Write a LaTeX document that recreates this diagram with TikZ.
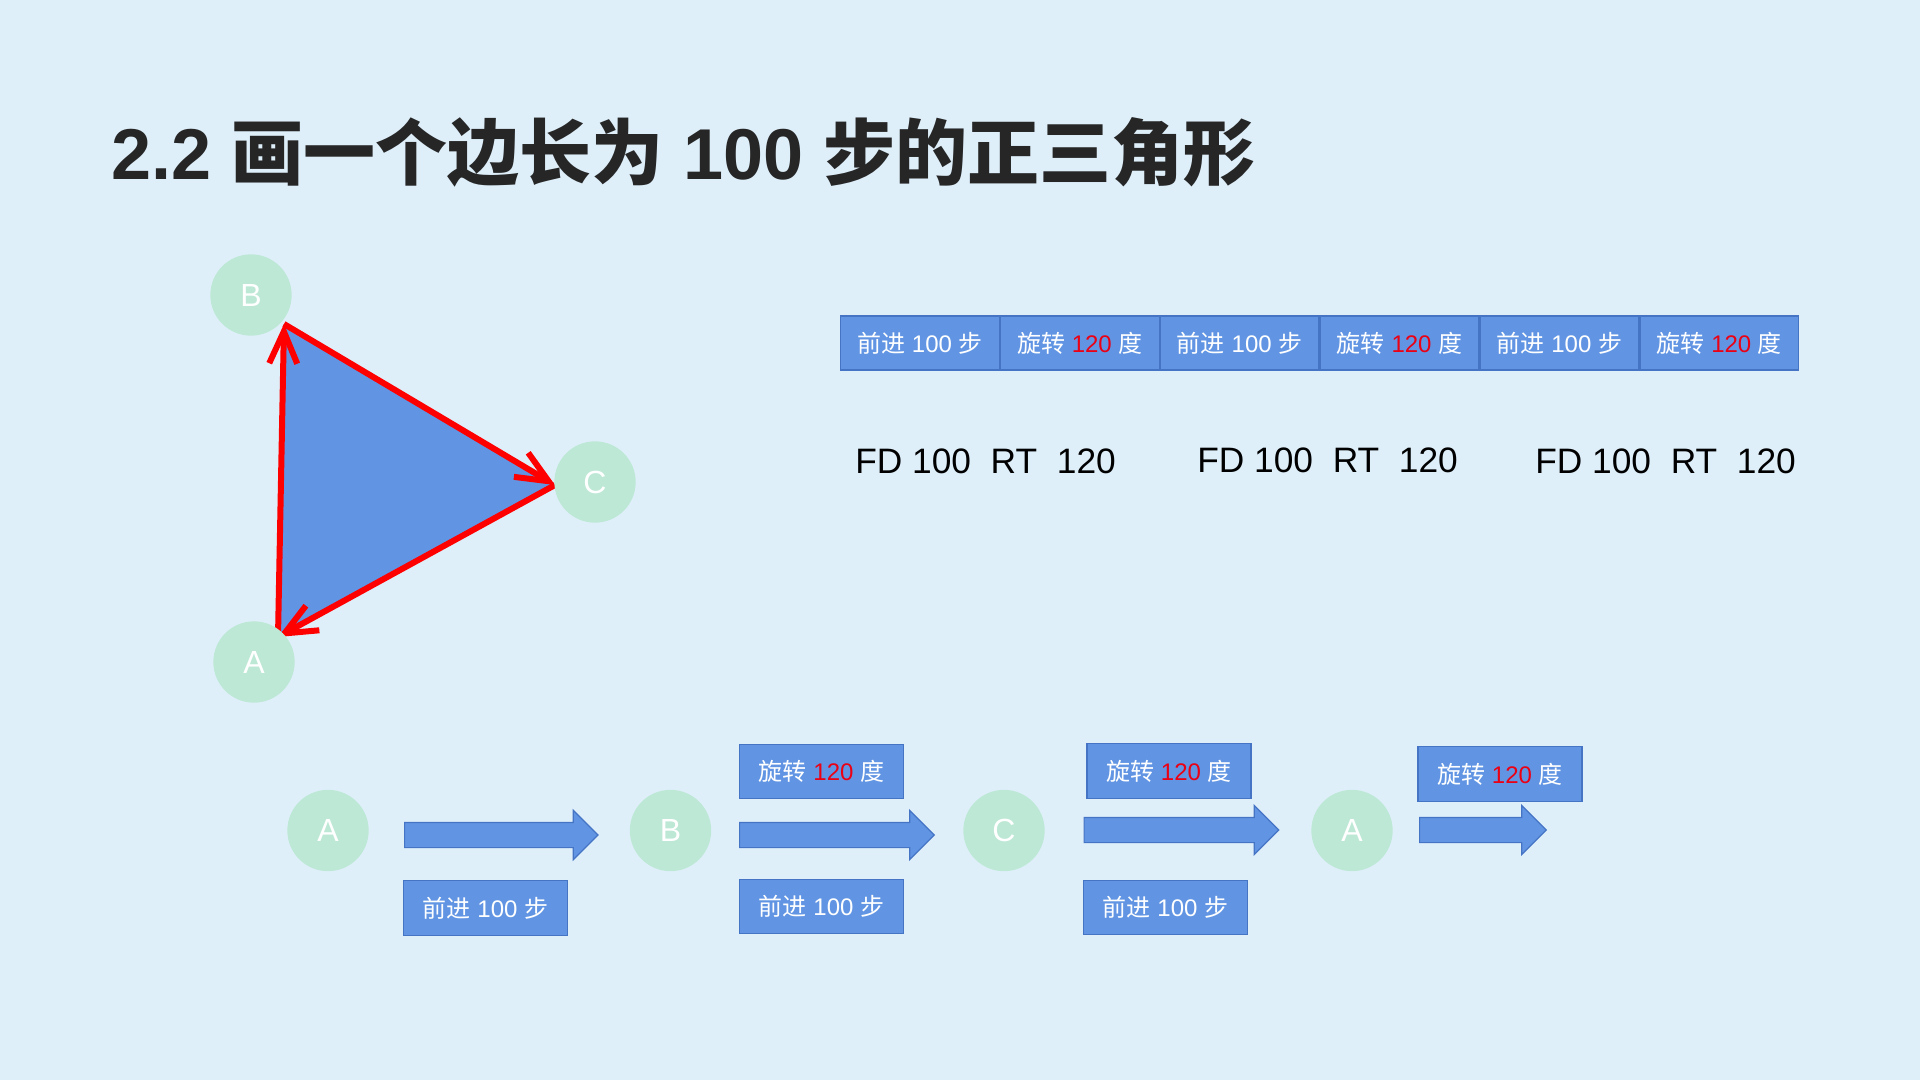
\documentclass[tikz,border=0pt]{standalone}
\usepackage{fontspec}
\setmainfont{Liberation Sans}
\newfontfamily\cjk{Noto Sans CJK SC}
\usepackage{xcolor}
\usetikzlibrary{arrows.meta, positioning, shapes.arrows, calc}

\definecolor{bgblue}{RGB}{222,239,250}
\definecolor{nodegreen}{RGB}{189,232,213}
\definecolor{boxblue}{RGB}{97,149,227}
\definecolor{boxline}{RGB}{70,116,196}
\definecolor{titlegray}{RGB}{38,38,38}
\definecolor{numred}{RGB}{235,0,20}

\newcommand{\fwdtext}{{\cjk 前进} 100 {\cjk 步}}
\newcommand{\turntext}{{\cjk 旋转} \textcolor{numred}{120} {\cjk 度}}

\begin{document}
\begin{tikzpicture}[
		x=0.75pt, y=-0.75pt,
		vertex/.style={
			circle,
			fill=nodegreen,
			text=white,
			minimum size=61pt,
			inner sep=0pt,
			font=\fontsize{24}{28}\selectfont
		},
		cmd/.style={
			draw=boxline,
			line width=0.9pt,
			fill=boxblue,
			text=white,
			minimum width=123pt,
			minimum height=41pt,
			inner sep=0pt,
			font=\fontsize{18}{22}\selectfont
		},
		rowbox/.style={
			cmd,
			minimum width=119pt,
			minimum height=40.5pt
		},
		move/.style={
			single arrow,
			draw=boxline,
			line width=0.9pt,
			fill=boxblue,
			single arrow head extend=9pt,
			single arrow tip angle=90,
			inner xsep=0pt,
			inner ysep=9pt,
			anchor=tail
		},
		redline/.style={
			red,
			line width=4.5pt,
			-{Straight Barb[length=24pt, width=21pt]}
		},
		logo/.style={
			anchor=base west,
			inner sep=0pt,
			font=\fontsize{26.5}{30}\selectfont
		}
		]
		
		% Hintergrund
		\fill[bgblue] (0,0) rectangle (1920,1080);
		\useasboundingbox (0,0) rectangle (1920,1080);
		
		% Titel
		\node[anchor=base west, inner sep=0pt, text=titlegray, font=\fontsize{54}{60}\selectfont\bfseries] (title) at (111,180) {2.2 {\cjk 画一个边长为} 100 {\cjk 步的正三角形}};
		
		% Dreieck
		\coordinate (tA) at (278,637);
		\coordinate (tB) at (284,324);
		\coordinate (tC) at (555,485);
		\fill[boxblue] (tA) -- (tB) -- (tC) -- cycle;
		\draw[redline] (tA) -- (tB);
		\draw[redline] (tB) -- (tC);
		\draw[redline] (tC) -- (tA);
		
		\node[vertex] (pB) at (251,295) {B};
		\node[vertex] (pC) at (595,482) {C};
		\node[vertex] (pA) at (254,662) {A};
		
		% Befehlsreihe
		\node[rowbox, anchor=west] (r1) at (840,343) {\fwdtext};
		\node[rowbox, right=0pt of r1] (r2) {\turntext};
		\node[rowbox, right=0pt of r2] (r3) {\fwdtext};
		\node[rowbox, right=0pt of r3] (r4) {\turntext};
		\node[rowbox, right=0pt of r4] (r5) {\fwdtext};
		\node[rowbox, right=0pt of r5] (r6) {\turntext};
		
		% Logo-Befehle
		\node[logo] (l1) at (855,473) {FD 100\ \ RT\ \ 120};
		\node[logo] (l2) at (1197,472) {FD 100\ \ RT\ \ 120};
		\node[logo] (l3) at (1535,473) {FD 100\ \ RT\ \ 120};
		
		% Ablauf unten
		\node[vertex] (a1) at (328,830.5) {A};
		\node[vertex] (b1) at (670.5,830.5) {B};
		\node[vertex] (c1) at (1004,830.5) {C};
		\node[vertex] (a2) at (1352,830.5) {A};
		
		\node[move, minimum height=145pt] (m1) at (404,835) {};
		\node[move, minimum height=146pt] (m2) at (739,835) {};
		\node[move, minimum height=146pt] (m3) at (1083.5,830) {};
		\node[move, minimum height=95pt] (m4) at (1419,830) {};
		
		\node[cmd] (f1) at (485.5,908) {\fwdtext};
		\node[cmd] (t2) at (821.5,771.5) {\turntext};
		\node[cmd] (f2) at (821.5,906.5) {\fwdtext};
		\node[cmd] (t3) at (1169,771) {\turntext};
		\node[cmd] (f3) at (1165.5,907.5) {\fwdtext};
		\node[cmd] (t4) at (1500,774) {\turntext};
		
	\end{tikzpicture}
\end{document}
